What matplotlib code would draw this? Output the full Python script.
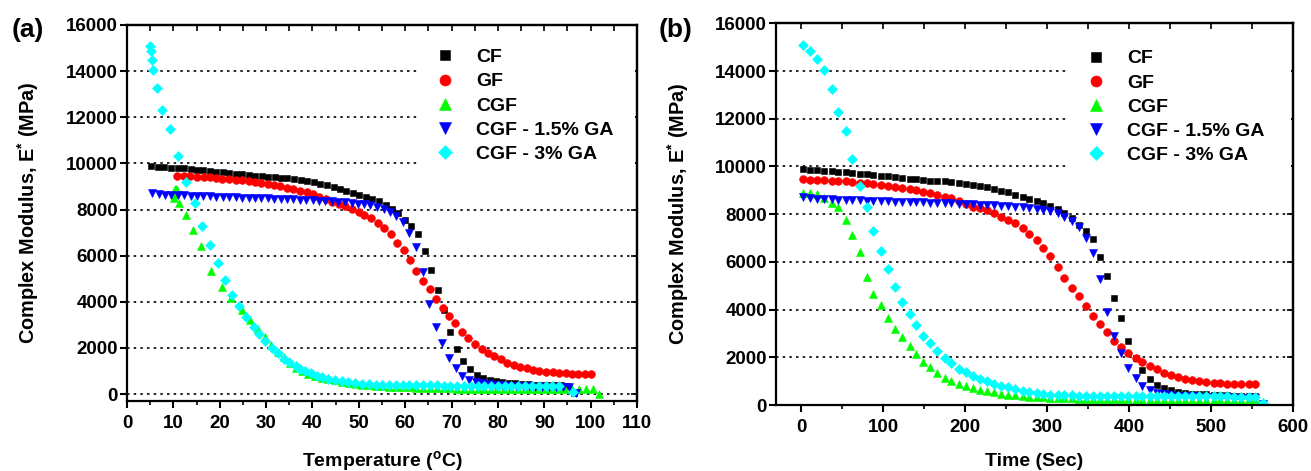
import matplotlib
matplotlib.use('Agg')
import matplotlib.pyplot as plt
from matplotlib.ticker import MultipleLocator

plt.rcParams['font.family'] = 'Liberation Sans'
plt.rcParams['font.weight'] = 'bold'
plt.rcParams['mathtext.fontset'] = 'custom'
plt.rcParams['mathtext.rm'] = 'Liberation Sans:bold'
plt.rcParams['mathtext.bf'] = 'Liberation Sans:bold'
plt.rcParams['mathtext.it'] = 'Liberation Sans:bold'

# DMA sweep: time of each reading (s), shared by all five films
time_s = [2, 11, 19, 28, 37, 45, 54, 62, 71, 80, 88, 97, 106, 114, 123, 132, 140, 149, 157, 166,
          175, 183, 192, 201, 209, 218, 226, 235, 244, 252, 261, 270, 278, 287, 295, 304, 313, 321, 330, 339,
          347, 356, 365, 373, 382, 390, 399, 408, 416, 425, 434, 442, 451, 459, 468, 477, 485, 494, 503, 511,
          520, 528, 537, 546, 554, 563]

# CF
cf_temp = [5.2, 6.7, 8.0, 9.5, 10.9, 12.2, 13.7, 15.0, 16.4, 17.9, 19.2, 20.7, 22.1, 23.4, 24.9, 26.4, 27.6, 29.1, 30.4, 31.9,
           33.3, 34.6, 36.1, 37.6, 38.9, 40.3, 41.6, 43.1, 44.6, 45.9, 47.3, 48.8, 50.1, 51.5, 52.8, 54.3, 55.8, 57.1, 58.5, 60.0,
           61.3, 62.7, 64.2, 65.5, 67.0, 68.3, 69.7, 71.2, 72.5, 74.0, 75.4, 76.7, 78.2, 79.5, 80.9, 82.4, 83.7, 85.2, 86.6, 87.9,
           89.4, 90.7, 92.2, 93.6, 94.9, 96.4]
cf_modulus = [9880, 9860, 9840, 9820, 9800, 9780, 9750, 9720, 9700, 9670, 9640, 9610, 9580, 9550, 9520, 9490, 9460, 9440, 9410, 9390,
              9370, 9350, 9320, 9280, 9240, 9180, 9120, 9060, 8990, 8910, 8820, 8730, 8650, 8550, 8460, 8350, 8200, 8030, 7830, 7540,
              7290, 6950, 6200, 5400, 4500, 3650, 2700, 1950, 1450, 1080, 840, 700, 610, 550, 510, 480, 460, 445, 430, 415,
              405, 395, 385, 375, 360, 60]

# GF
gf_temp = [10.8, 12.3, 13.6, 15.0, 16.5, 17.8, 19.2, 20.5, 22.0, 23.4, 24.7, 26.2, 27.6, 28.9, 30.4, 31.8, 33.1, 34.6, 35.9, 37.3,
           38.8, 40.1, 41.5, 43.0, 44.3, 45.8, 47.0, 48.5, 50.0, 51.2, 52.7, 54.2, 55.5, 56.9, 58.2, 59.7, 61.1, 62.4, 63.9, 65.3,
           66.6, 68.1, 69.5, 70.8, 72.3, 73.6, 75.0, 76.5, 77.8, 79.2, 80.7, 82.0, 83.4, 84.7, 86.2, 87.6, 88.9, 90.4, 91.8, 93.1,
           94.6, 95.9, 97.3, 98.8, 100.1]
gf_modulus = [9460, 9450, 9440, 9420, 9400, 9390, 9370, 9340, 9315, 9290, 9260, 9230, 9200, 9150, 9100, 9060, 9000, 8940, 8890, 8820,
              8740, 8670, 8560, 8440, 8320, 8240, 8160, 8040, 7900, 7760, 7630, 7400, 7180, 6920, 6570, 6240, 5800, 5320, 4900, 4560,
              4130, 3750, 3400, 3080, 2700, 2440, 2180, 1960, 1790, 1630, 1500, 1340, 1240, 1180, 1110, 1060, 1010, 975, 940, 915,
              900, 885, 870, 865, 860]

# CGF
cgf_temp = [10.4, 10.5, 10.7, 10.3, 10.2, 11.3, 12.7, 14.2, 16.0, 18.1, 20.4, 22.4, 24.7, 26.6, 28.3, 29.8, 31.1, 32.5, 33.8, 35.1,
            36.5, 37.8, 39.1, 40.5, 42.0, 43.4, 44.9, 46.3, 47.8, 49.3, 50.7, 52.2, 53.7, 55.1, 56.6, 58.0, 59.5, 61.0, 62.4, 63.9,
            65.3, 66.8, 68.3, 69.7, 71.2, 72.6, 74.1, 75.6, 77.0, 78.5, 79.9, 81.4, 82.9, 84.3, 85.8, 87.2, 88.7, 90.2, 91.6, 93.1,
            94.5, 96.0, 97.5, 98.9, 100.4, 101.8]
cgf_modulus = [8900, 8900, 8850, 8680, 8480, 8290, 7750, 7130, 6400, 5350, 4650, 4180, 3640, 3200, 2840, 2460, 2130, 1820, 1600, 1340,
               1120, 1000, 880, 790, 715, 645, 590, 530, 480, 440, 400, 375, 355, 340, 325, 310, 300, 290, 280, 272,
               265, 258, 252, 246, 240, 236, 232, 228, 224, 220, 217, 214, 212, 210, 208, 206, 205, 204, 204, 205,
               208, 215, 225, 235, 240, 20]

# CGF - 1.5% GA
ga15_temp = [5.3, 6.8, 8.1, 9.5, 11.0, 12.2, 13.7, 15.0, 16.4, 17.9, 19.2, 20.6, 22.1, 23.4, 24.8, 26.3, 27.5, 29.0, 30.3, 31.7,
             33.2, 34.5, 35.9, 37.4, 38.6, 40.1, 41.4, 42.8, 44.3, 45.6, 47.0, 48.5, 49.8, 51.2, 52.5, 53.9, 55.4, 56.7, 58.1, 59.5,
             60.9, 62.4, 63.8, 65.2, 66.7, 68.0, 69.5, 71.0, 72.3, 73.8, 75.3, 76.6, 78.1, 79.4, 80.9, 82.4, 83.8, 85.3, 86.8, 88.1,
             89.6, 91.0, 92.5, 94.0, 95.3, 96.8]
ga15_modulus = [8700, 8660, 8640, 8630, 8620, 8610, 8600, 8590, 8580, 8570, 8560, 8550, 8540, 8530, 8520, 8510, 8500, 8490, 8480, 8470,
                8460, 8450, 8440, 8430, 8410, 8400, 8390, 8370, 8350, 8330, 8310, 8290, 8260, 8230, 8190, 8130, 8030, 7900, 7720, 7450,
                7000, 6380, 5300, 3900, 2900, 2200, 1570, 1120, 800, 620, 520, 460, 420, 395, 375, 360, 350, 340, 330, 320,
                315, 310, 305, 300, 290, 30]

# CGF - 3% GA
ga3_temp = [4.9, 5.2, 5.3, 5.7, 6.5, 7.5, 9.2, 10.9, 12.8, 14.6, 16.2, 17.9, 19.6, 21.1, 22.6, 24.1, 25.6, 27.3, 28.5, 29.8,
            31.3, 32.5, 33.9, 35.0, 36.4, 37.4, 38.4, 39.6, 40.9, 42.0, 43.3, 44.8, 46.3, 47.7, 49.2, 50.7, 52.1, 53.6, 55.1, 56.5,
            58.0, 59.5, 60.9, 62.4, 63.9, 65.3, 66.8, 68.3, 69.7, 71.2, 72.7, 74.1, 75.6, 77.1, 78.5, 80.0, 81.5, 82.9, 84.4, 85.9,
            87.3, 88.8, 90.3, 91.7, 93.1, 96.1]
ga3_modulus = [15100, 14860, 14500, 14050, 13250, 12300, 11500, 10300, 9200, 8300, 7300, 6450, 5700, 4950, 4300, 3800, 3350, 2900, 2600, 2280,
               1980, 1760, 1530, 1390, 1230, 1100, 1000, 895, 805, 755, 670, 605, 560, 510, 460, 440, 425, 415, 405, 398,
               392, 387, 383, 380, 377, 375, 373, 371, 370, 368, 367, 366, 365, 364, 363, 362, 361, 360, 359, 358,
               357, 356, 355, 354, 350, 80]

labels = ['CF', 'GF', 'CGF', 'CGF - 1.5% GA', 'CGF - 3% GA']
temps = [cf_temp, gf_temp, cgf_temp, ga15_temp, ga3_temp]
moduli = [cf_modulus, gf_modulus, cgf_modulus, ga15_modulus, ga3_modulus]
markers = ['s', 'o', '^', 'v', 'D']
sizes = [5.0, 5.6, 6.0, 6.0, 4.8]
colors = ['#000000', '#FF0000', '#00FF00', '#0000FF', '#00FFFF']

fig = plt.figure(figsize=(13.11, 4.71), dpi=100)
ax_a = fig.add_axes([0.0969, 0.1476, 0.3890, 0.7994])
ax_b = fig.add_axes([0.5919, 0.1401, 0.3944, 0.8104])


def draw_series(ax, xs):
    for x, y, lab, m, s, c in zip(xs, moduli, labels, markers, sizes, colors):
        ax.plot(x[:len(y)], y, linestyle='none', marker=m, markersize=s,
                color=c, markeredgecolor=c, markeredgewidth=0.4, label=lab)


def style_axes(ax, xlim, ylim, xmajor, xminor, legend_x, legend_y):
    ax.set_xlim(*xlim)
    ax.set_ylim(*ylim)
    ax.xaxis.set_major_locator(MultipleLocator(xmajor))
    ax.xaxis.set_minor_locator(MultipleLocator(xminor))
    ax.yaxis.set_major_locator(MultipleLocator(2000))
    ax.yaxis.grid(True, color='black', linestyle=(0, (1.5, 2.5)), linewidth=1.2)
    for sp in ax.spines.values():
        sp.set_linewidth(1.6)
    ax.tick_params(which='major', direction='out', length=5, width=1.5, labelsize=13.5)
    ax.tick_params(which='minor', direction='out', length=3, width=1.2)
    ax.tick_params(axis='x', which='major', pad=5)
    ax.tick_params(axis='y', which='major', pad=1.5)
    ax.tick_params(axis='y', which='minor', left=False)

    # inward ticks along the top and right edges
    top = ax.secondary_xaxis('top')
    top.xaxis.set_major_locator(MultipleLocator(xmajor))
    top.xaxis.set_minor_locator(MultipleLocator(xminor))
    top.tick_params(which='both', direction='in', length=4, width=1.2, labeltop=False)
    top.spines['top'].set_linewidth(1.6)
    right = ax.secondary_yaxis('right')
    right.yaxis.set_major_locator(MultipleLocator(2000))
    right.tick_params(which='both', direction='in', length=4, width=1.2, labelright=False)
    right.spines['right'].set_linewidth(1.6)

    # legend box stretched to the right spine so it blanks the grid behind it
    leg = ax.legend(loc='upper left', bbox_to_anchor=(legend_x, legend_y, 0.997 - legend_x, 0),
                    mode='expand', borderaxespad=0,
                    frameon=True, fancybox=False, framealpha=1, facecolor='white', edgecolor='none',
                    prop={'size': 14, 'weight': 'bold'}, markerscale=1.42, numpoints=1,
                    handlelength=2.1, handletextpad=0.55, labelspacing=0.34, borderpad=0.4)
    leg.set_zorder(5)

    for t in ax.get_xticklabels() + ax.get_yticklabels():
        t.set_fontweight('bold')


draw_series(ax_a, temps)
style_axes(ax_a, (0, 110), (-320, 16000), 10, 5, 0.5686, 0.958)
ax_a.set_xlabel(r'Temperature ($^{\mathbf{o}}$C)', fontsize=14, fontweight='bold')
ax_a.set_ylabel(r'Complex Modulus, E$^{\mathbf{*}}$ (MPa)', fontsize=14.3, fontweight='bold')
ax_a.xaxis.set_label_coords(0.5, -0.157)
ax_a.xaxis.label.set_va('center')
ax_a.yaxis.set_label_coords(-0.194, 0.5)
ax_a.yaxis.label.set_va('center')

draw_series(ax_b, [time_s] * 5)
style_axes(ax_b, (-31, 600), (0, 16000), 100, 50, 0.5648, 0.951)
ax_b.set_xlabel('Time (Sec)', fontsize=14, fontweight='bold')
ax_b.set_ylabel(r'Complex Modulus, E$^{\mathbf{*}}$ (MPa)', fontsize=14.3, fontweight='bold')
ax_b.xaxis.set_label_coords(0.5, -0.147)
ax_b.xaxis.label.set_va('center')
ax_b.yaxis.set_label_coords(-0.19, 0.5)
ax_b.yaxis.label.set_va('center')

fig.text(28 / 1311, 1 - 30 / 471, '(a)', fontsize=19, fontweight='bold', ha='center', va='center')
fig.text(676 / 1311, 1 - 30 / 471, '(b)', fontsize=19, fontweight='bold', ha='center', va='center')

fig.savefig('out.png', dpi=100)
